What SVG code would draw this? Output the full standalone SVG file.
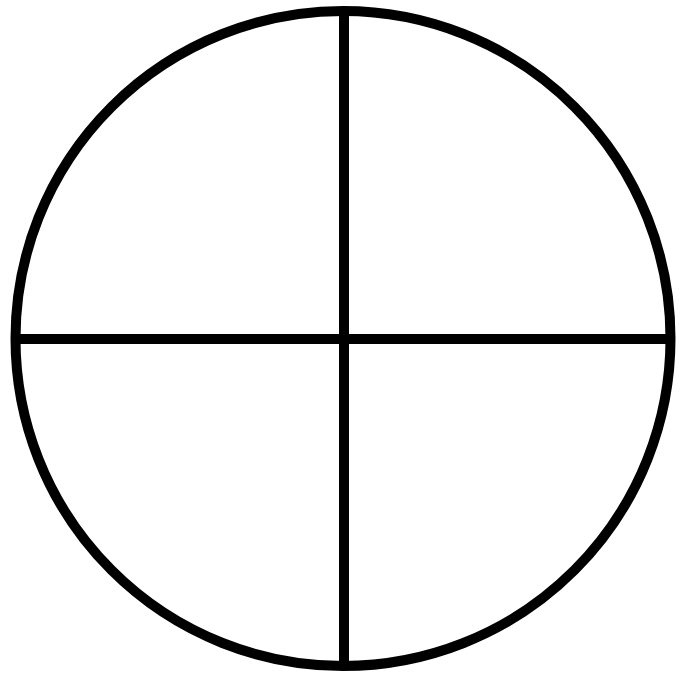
<svg xmlns="http://www.w3.org/2000/svg" width="684" height="676" viewBox="0 0 684 676">
<style>.s{fill:none;stroke:#000;stroke-width:10}</style>
<rect width="684" height="676" fill="#fff"/>
<g id="connectors">
<line class="s" x1="344" y1="12" x2="344" y2="665"/>
<line class="s" x1="16" y1="339" x2="670" y2="339"/>
</g>
<g id="circle">
<circle class="s" cx="343" cy="338.5" r="327.5"/>
</g>
</svg>
